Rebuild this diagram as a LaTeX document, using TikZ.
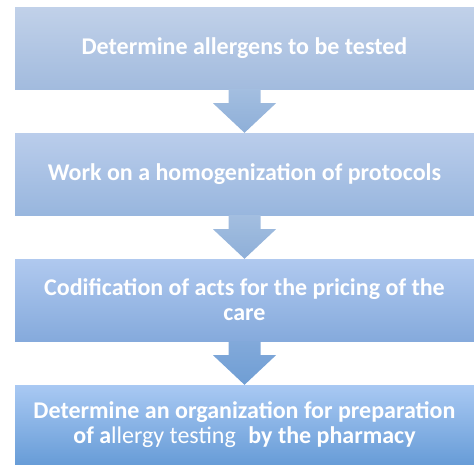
\documentclass[tikz,border=0pt]{standalone}
\usepackage{fontspec}
\setmainfont{Carlito}
\usetikzlibrary{calc}
\definecolor{boxAtop}{HTML}{C1D1E9}
\definecolor{boxAbot}{HTML}{A2BBDE}
\definecolor{boxBtop}{HTML}{BACDEB}
\definecolor{boxBbot}{HTML}{98B6DE}
\definecolor{boxCtop}{HTML}{B0C9EF}
\definecolor{boxCbot}{HTML}{85AADC}
\definecolor{boxDtop}{HTML}{A9C9F3}
\definecolor{boxDbot}{HTML}{679CD7}
\definecolor{arrA}{HTML}{A3BEE0}
\definecolor{arrAb}{HTML}{8EAFD8}
\definecolor{arrC}{HTML}{82A9DA}
\definecolor{arrCb}{HTML}{6F9ED4}
\tikzset{
  stepbox/.style={minimum width=459pt, inner sep=0pt, align=center, text=white,
    font=\fontsize{24}{25}\selectfont\bfseries}
}
\begin{document}
\begin{tikzpicture}[x=1pt,y=1pt]
\useasboundingbox (0,0) rectangle (474,-464);
\node[stepbox, minimum height=82pt, top color=boxAtop, bottom color=boxAbot] (b1) at (244.5,-48) {Determine allergens to be tested};
\node[stepbox, minimum height=82pt, top color=boxBtop, bottom color=boxBbot] (b2) at (244.5,-174) {Work on a homogenization of protocols};
\node[stepbox, minimum height=82pt, top color=boxCtop, bottom color=boxCbot] (b3) at (244.5,-300) {Codification of acts for the pricing of the\\care};
\node[stepbox, minimum height=80pt, top color=boxDtop, bottom color=boxDbot] (b4) at (244.5,-425) {Determine an organization for preparation\\of a{\mdseries llergy testing}\hspace{0.3em} by the pharmacy};
\foreach \a/\b/\c/\d in {b1/b2/arrA/arrAb, b2/b3/arrA/arrAb, b3/b4/arrC/arrCb}{
  \path[top color=\c, bottom color=\d]
    ($(\a.south)+(-16,0)$) -- ($(\a.south)+(16,0)$) -- ($(\a.south)+(16,-14)$) -- ($(\a.south)+(31.5,-14)$)
    -- (\b.north) -- ($(\a.south)+(-31.5,-14)$) -- ($(\a.south)+(-16,-14)$) -- cycle;
}
\end{tikzpicture}
\end{document}
